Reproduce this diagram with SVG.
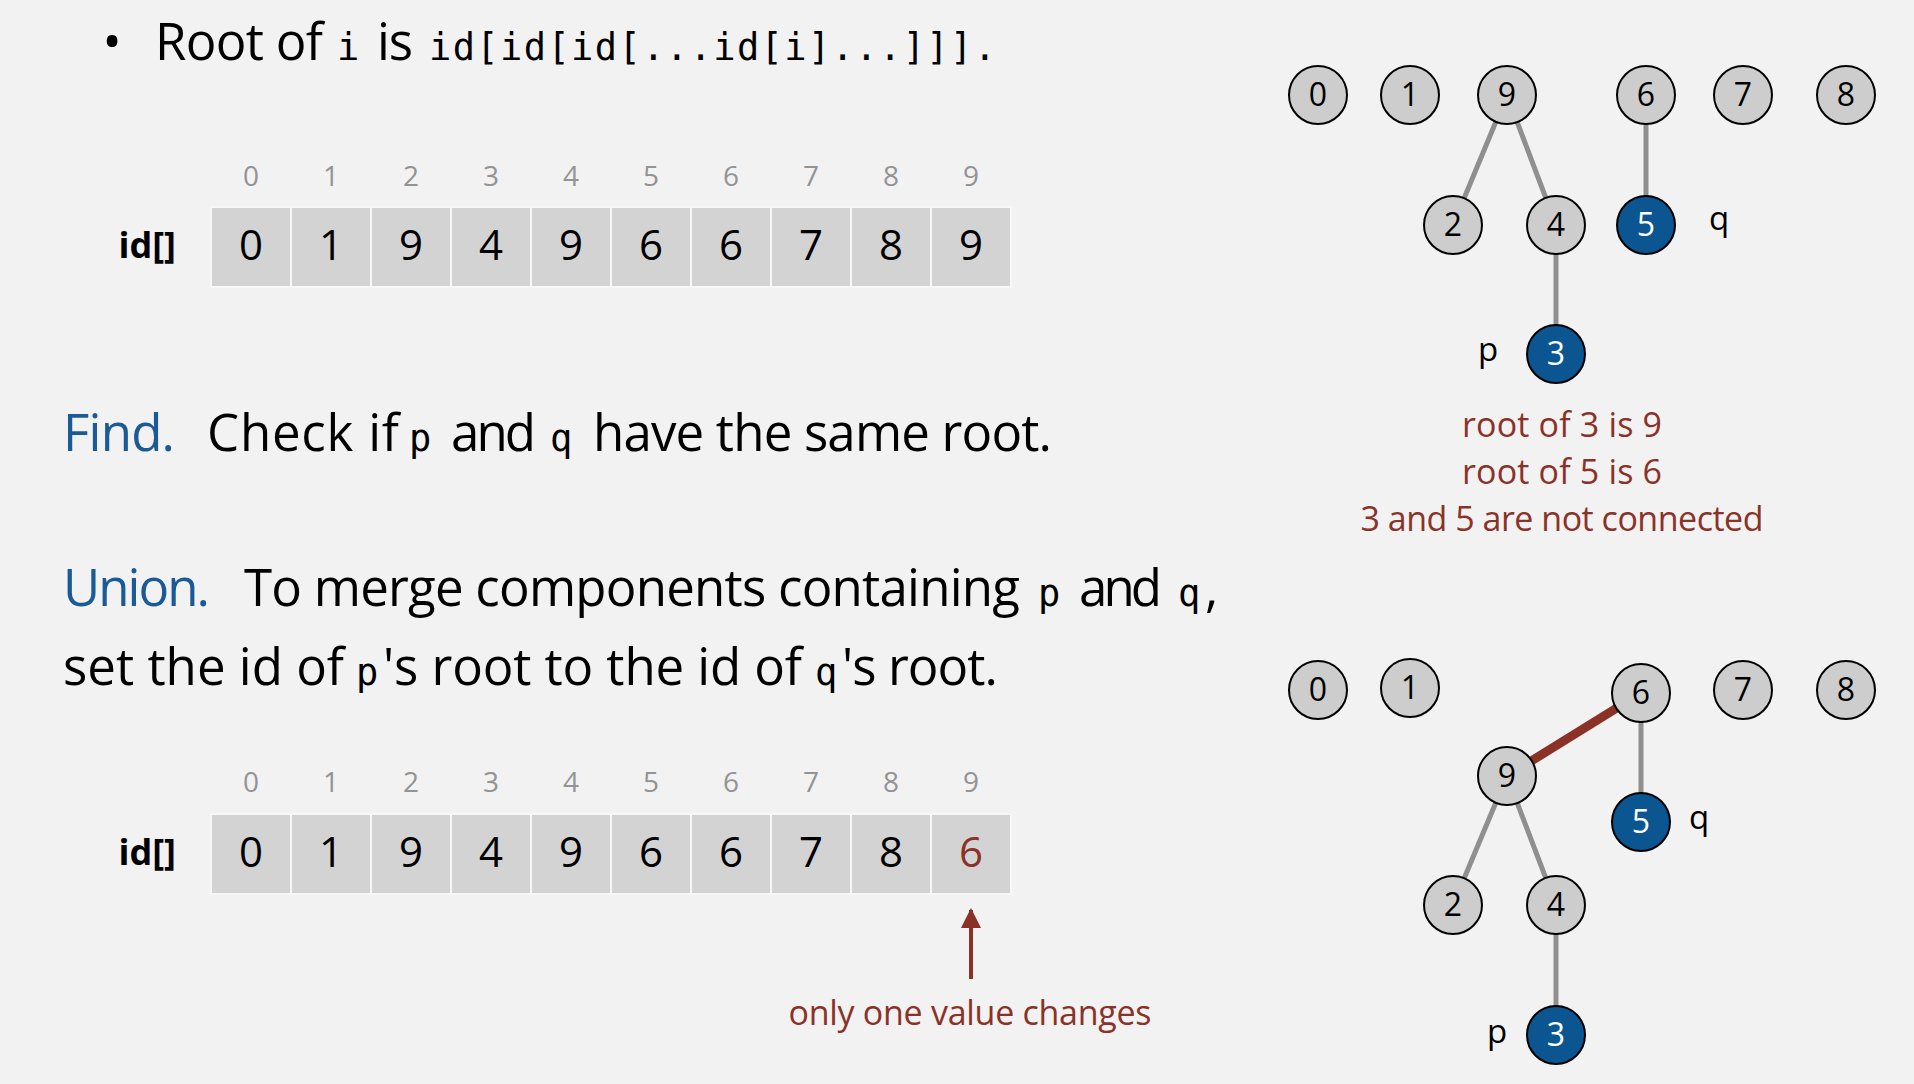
<svg xmlns="http://www.w3.org/2000/svg" width="1914" height="1084" viewBox="0 0 1914 1084">
  <defs>
    <style>
      .mono { font-family: "DejaVu Sans Mono", "Liberation Mono", monospace; font-size: 37px; }
      .body { font-family: "Open Sans", "Liberation Sans", sans-serif; font-size: 51px; fill: #000; }
      .kw { fill: #1a5a96; }
      .red { fill: #8b3228; }
      .cell { fill: #d3d3d3; stroke: #f7f7f7; stroke-width: 2; }
      .idx { font-family: "Open Sans", "Liberation Sans", sans-serif; font-size: 28px; fill: #939393; text-anchor: middle; }
      .val { font-family: "Open Sans", "Liberation Sans", sans-serif; font-size: 42px; fill: #000; text-anchor: middle; }
      .lbl { font-family: "Open Sans", "Liberation Sans", sans-serif; font-size: 36px; fill: #000; font-weight: bold; text-anchor: end; }
      .node circle { fill: #cdcdcd; stroke: #000; stroke-width: 2; }
      .node text { font-family: "Open Sans", "Liberation Sans", sans-serif; font-size: 32px; fill: #000; text-anchor: middle; }
      .node.hl circle { fill: #0b5591; }
      .node.hl text { fill: #fff; }
      .edge { stroke: #8f8f8f; stroke-width: 5; }
      .edge.new { stroke: #8b3228; stroke-width: 9; }
      .pq { font-family: "Open Sans", "Liberation Sans", sans-serif; font-size: 33px; fill: #000; text-anchor: middle; }
      .note { font-family: "Open Sans", "Liberation Sans", sans-serif; font-size: 34px; fill: #8b3228; text-anchor: middle; }
    </style>
    <marker id="arrowhead" markerWidth="5" markerHeight="5" refX="4.5" refY="2.5" orient="auto" markerUnits="strokeWidth">
      <path d="M0,0 L5,2.5 L0,5 Z" fill="#8b3228"/>
    </marker>
  </defs>

  <rect x="0" y="0" width="1914" height="1084" fill="#f2f2f2"/>

  <!-- Left text -->
  <g id="text-root">
    <text class="body" x="112" y="60" text-anchor="middle">•</text>
    <text class="body" y="60"><tspan x="155" textLength="168">Root of</tspan><tspan class="mono" x="337">i</tspan><tspan x="377" textLength="36">is</tspan><tspan class="mono" x="429" textLength="567">id[id[id[...id[i]...]]].</tspan></text>
  </g>

  <g id="text-find">
    <text class="body" y="451"><tspan class="kw" x="63" textLength="112">Find.</tspan><tspan x="207" textLength="192">Check if</tspan><tspan class="mono" x="409">p</tspan><tspan x="451" textLength="85">and</tspan><tspan class="mono" x="550">q</tspan><tspan x="593" textLength="459">have the same root.</tspan></text>
  </g>

  <g id="text-union">
    <text class="body" y="606"><tspan class="kw" x="63" textLength="147">Union.</tspan><tspan x="244" textLength="776">To merge components containing</tspan><tspan class="mono" x="1038">p</tspan><tspan x="1079" textLength="83">and</tspan><tspan class="mono" x="1178">q</tspan><tspan x="1205">,</tspan></text>
    <text class="body" y="685"><tspan x="63" textLength="281">set the id of</tspan><tspan class="mono" x="356">p</tspan><tspan x="383" textLength="419">'s root to the id of</tspan><tspan class="mono" x="815">q</tspan><tspan x="842" textLength="156">'s root.</tspan></text>
  </g>

  <!-- Array before union -->
  <g id="array-before">
    <text class="lbl" x="176" y="258">id[]</text>
    <rect class="cell" x="211" y="207" width="80" height="80"/>
    <rect class="cell" x="291" y="207" width="80" height="80"/>
    <rect class="cell" x="371" y="207" width="80" height="80"/>
    <rect class="cell" x="451" y="207" width="80" height="80"/>
    <rect class="cell" x="531" y="207" width="80" height="80"/>
    <rect class="cell" x="611" y="207" width="80" height="80"/>
    <rect class="cell" x="691" y="207" width="80" height="80"/>
    <rect class="cell" x="771" y="207" width="80" height="80"/>
    <rect class="cell" x="851" y="207" width="80" height="80"/>
    <rect class="cell" x="931" y="207" width="80" height="80"/>
    <text class="idx" y="186"><tspan x="251">0</tspan><tspan x="331">1</tspan><tspan x="411">2</tspan><tspan x="491">3</tspan><tspan x="571">4</tspan><tspan x="651">5</tspan><tspan x="731">6</tspan><tspan x="811">7</tspan><tspan x="891">8</tspan><tspan x="971">9</tspan></text>
    <text class="val" y="260"><tspan x="251">0</tspan><tspan x="331">1</tspan><tspan x="411">9</tspan><tspan x="491">4</tspan><tspan x="571">9</tspan><tspan x="651">6</tspan><tspan x="731">6</tspan><tspan x="811">7</tspan><tspan x="891">8</tspan><tspan x="971">9</tspan></text>
  </g>

  <!-- Array after union -->
  <g id="array-after">
    <text class="lbl" x="176" y="865">id[]</text>
    <rect class="cell" x="211" y="814" width="80" height="80"/>
    <rect class="cell" x="291" y="814" width="80" height="80"/>
    <rect class="cell" x="371" y="814" width="80" height="80"/>
    <rect class="cell" x="451" y="814" width="80" height="80"/>
    <rect class="cell" x="531" y="814" width="80" height="80"/>
    <rect class="cell" x="611" y="814" width="80" height="80"/>
    <rect class="cell" x="691" y="814" width="80" height="80"/>
    <rect class="cell" x="771" y="814" width="80" height="80"/>
    <rect class="cell" x="851" y="814" width="80" height="80"/>
    <rect class="cell" x="931" y="814" width="80" height="80"/>
    <text class="idx" y="792"><tspan x="251">0</tspan><tspan x="331">1</tspan><tspan x="411">2</tspan><tspan x="491">3</tspan><tspan x="571">4</tspan><tspan x="651">5</tspan><tspan x="731">6</tspan><tspan x="811">7</tspan><tspan x="891">8</tspan><tspan x="971">9</tspan></text>
    <text class="val" y="867"><tspan x="251">0</tspan><tspan x="331">1</tspan><tspan x="411">9</tspan><tspan x="491">4</tspan><tspan x="571">9</tspan><tspan x="651">6</tspan><tspan x="731">6</tspan><tspan x="811">7</tspan><tspan x="891">8</tspan><tspan class="red" x="971">6</tspan></text>
  </g>

  <g id="change-note">
    <line x1="971" y1="979" x2="971" y2="910" stroke="#8b3228" stroke-width="4" marker-end="url(#arrowhead)"/>
    <text class="note" x="970" y="1025" textLength="363">only one value changes</text>
  </g>

  <!-- Top forest: connectors -->
  <g id="top-connectors">
    <line class="edge" x1="1507" y1="95" x2="1453" y2="225"/>
    <line class="edge" x1="1507" y1="95" x2="1556" y2="225"/>
    <line class="edge" x1="1556" y1="225" x2="1556" y2="354"/>
    <line class="edge" x1="1646" y1="95" x2="1646" y2="225"/>
  </g>

  <!-- Top forest: nodes -->
  <g id="top-n0" class="node"><circle cx="1318" cy="95" r="29"/><text x="1318" y="106">0</text></g>
  <g id="top-n1" class="node"><circle cx="1410" cy="95" r="29"/><text x="1410" y="106">1</text></g>
  <g id="top-n9" class="node"><circle cx="1507" cy="95" r="29"/><text x="1507" y="106">9</text></g>
  <g id="top-n6" class="node"><circle cx="1646" cy="95" r="29"/><text x="1646" y="106">6</text></g>
  <g id="top-n7" class="node"><circle cx="1743" cy="95" r="29"/><text x="1743" y="106">7</text></g>
  <g id="top-n8" class="node"><circle cx="1846" cy="95" r="29"/><text x="1846" y="106">8</text></g>
  <g id="top-n2" class="node"><circle cx="1453" cy="225" r="29"/><text x="1453" y="236">2</text></g>
  <g id="top-n4" class="node"><circle cx="1556" cy="225" r="29"/><text x="1556" y="236">4</text></g>
  <g id="top-n5" class="node hl"><circle cx="1646" cy="225" r="29"/><text x="1646" y="236">5</text></g>
  <g id="top-n3" class="node hl"><circle cx="1556" cy="354" r="29"/><text x="1556" y="365">3</text></g>
  <g id="top-labels">
    <text class="pq" x="1719" y="230">q</text>
    <text class="pq" x="1488" y="361">p</text>
  </g>

  <g id="find-note">
    <text class="note" x="1562" y="437" textLength="200">root of 3 is 9</text>
    <text class="note" x="1562" y="484" textLength="200">root of 5 is 6</text>
    <text class="note" x="1562" y="531" textLength="403">3 and 5 are not connected</text>
  </g>

  <!-- Bottom forest: connectors -->
  <g id="bottom-connectors">
    <line class="edge" x1="1641" y1="693" x2="1641" y2="822"/>
    <line class="edge" x1="1507" y1="776" x2="1453" y2="905"/>
    <line class="edge" x1="1507" y1="776" x2="1556" y2="905"/>
    <line class="edge" x1="1556" y1="905" x2="1556" y2="1035"/>
    <line class="edge new" x1="1507" y1="776" x2="1641" y2="693"/>
  </g>

  <!-- Bottom forest: nodes -->
  <g id="bot-n0" class="node"><circle cx="1318" cy="690" r="29"/><text x="1318" y="701">0</text></g>
  <g id="bot-n1" class="node"><circle cx="1410" cy="688" r="29"/><text x="1410" y="699">1</text></g>
  <g id="bot-n6" class="node"><circle cx="1641" cy="693" r="29"/><text x="1641" y="704">6</text></g>
  <g id="bot-n7" class="node"><circle cx="1743" cy="690" r="29"/><text x="1743" y="701">7</text></g>
  <g id="bot-n8" class="node"><circle cx="1846" cy="690" r="29"/><text x="1846" y="701">8</text></g>
  <g id="bot-n9" class="node"><circle cx="1507" cy="776" r="29"/><text x="1507" y="787">9</text></g>
  <g id="bot-n5" class="node hl"><circle cx="1641" cy="822" r="29"/><text x="1641" y="833">5</text></g>
  <g id="bot-n2" class="node"><circle cx="1453" cy="905" r="29"/><text x="1453" y="916">2</text></g>
  <g id="bot-n4" class="node"><circle cx="1556" cy="905" r="29"/><text x="1556" y="916">4</text></g>
  <g id="bot-n3" class="node hl"><circle cx="1556" cy="1035" r="29"/><text x="1556" y="1046">3</text></g>
  <g id="bottom-labels">
    <text class="pq" x="1699" y="829">q</text>
    <text class="pq" x="1497" y="1043">p</text>
  </g>
</svg>
